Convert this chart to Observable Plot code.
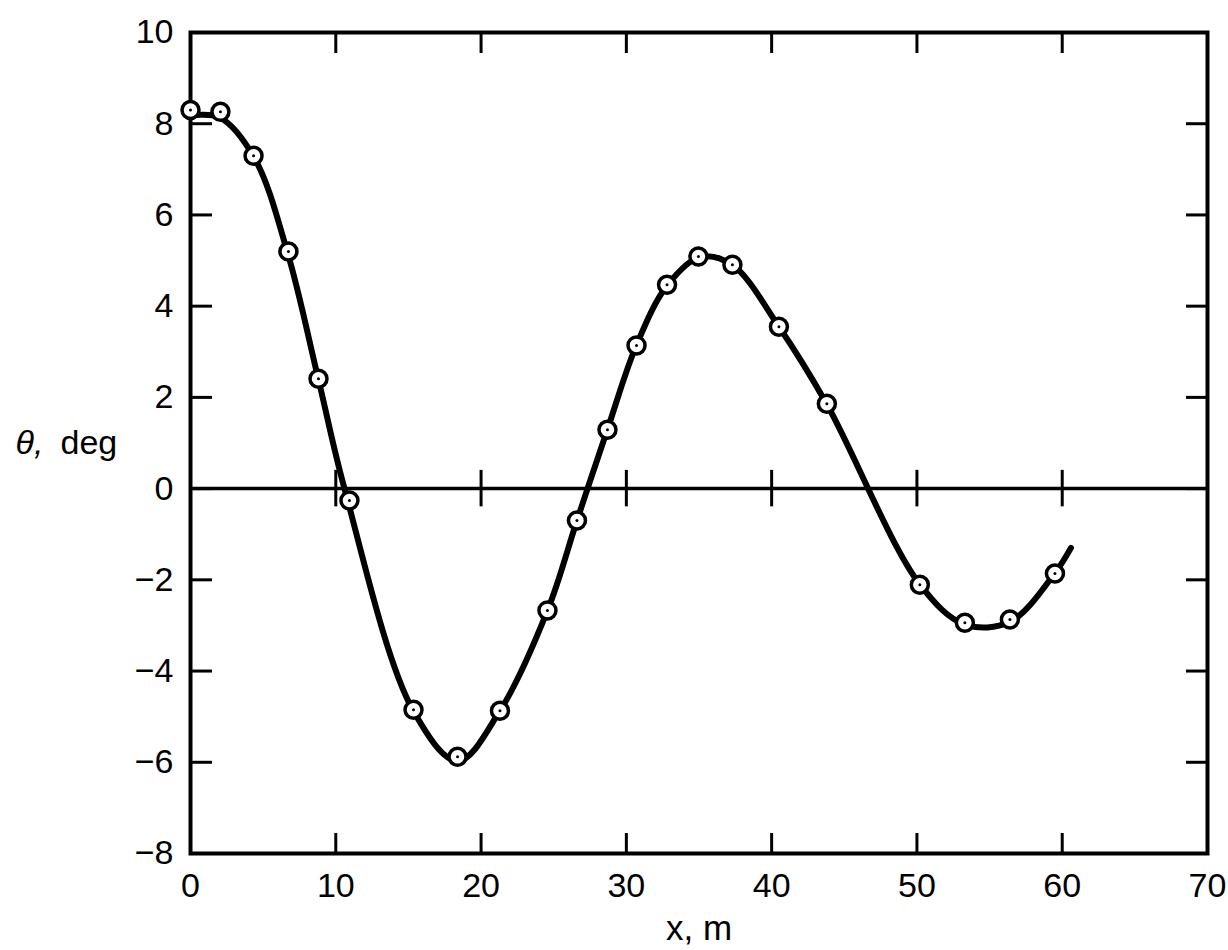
<!DOCTYPE html>
<html>
<head>
<meta charset="utf-8">
<script src="https://cdn.jsdelivr.net/npm/d3@7"></script>
<script src="https://cdn.jsdelivr.net/npm/@observablehq/plot@0.6"></script>
<style>
  html, body { margin: 0; padding: 0; background: #fff; }
  #chart { width: 1228px; height: 950px; }
</style>
</head>
<body>
<div id="chart"></div>
<script>
// Measured points (circles)
const pointX = [0, 2.06, 4.34, 6.74, 8.81, 10.94, 15.35, 18.38, 21.3, 24.57, 26.6, 28.7, 30.7, 32.8, 34.96, 37.3, 40.5, 43.8, 50.2, 53.3, 56.4, 59.5];
const pointY = [8.30, 8.26, 7.30, 5.20, 2.41, -0.26, -4.85, -5.88, -4.87, -2.67, -0.70, 1.29, 3.14, 4.47, 5.09, 4.91, 3.55, 1.86, -2.11, -2.94, -2.87, -1.86];

// Faired curve drawn through the data
const curveX = [0, 2.0, 4.4, 6.7, 8.8, 10.6, 15.3, 18.4, 21.3, 24.6, 26.6, 28.7, 30.7, 32.8, 35.1, 37.3, 40.5, 43.8, 50.2, 53.3, 56.4, 59.5, 60.6];
const curveY = [8.18, 8.14, 7.25, 5.15, 2.40, 0.0, -4.85, -5.97, -4.87, -2.65, -0.70, 1.30, 3.15, 4.45, 5.08, 4.90, 3.55, 1.85, -2.10, -2.98, -2.92, -1.85, -1.30];

const xTicks = [0, 10, 20, 30, 40, 50, 60, 70];
const yTicks = [-8, -6, -4, -2, 0, 2, 4, 6, 8, 10];
const xLabel = "x, m";
const yLabelSymbol = "θ,";
const yLabelUnit = "deg";

const points = pointX.map((x, i) => ({x, y: pointY[i]}));
const curve = curveX.map((x, i) => ({x, y: curveY[i]}));
const fmt = d => d < 0 ? "\u2212" + Math.abs(d) : String(d);
const innerX = xTicks.slice(1, -1);

const chart = Plot.plot({
  width: 1228,
  height: 950,
  marginLeft: 190,
  marginRight: 21,
  marginTop: 32,
  marginBottom: 97,
  style: {fontFamily: "'Liberation Sans', Arial, sans-serif", fontSize: "34px", background: "#fff", color: "#000"},
  x: {domain: [0, 70]},
  y: {domain: [-8, 10]},
  marks: [
    // inward ticks
    Plot.axisX(xTicks, {anchor: "bottom", tickSize: -20, tickFormat: () => "", label: null, strokeWidth: 3}),
    Plot.axisX(xTicks, {anchor: "top", tickSize: -20, tickFormat: () => "", label: null, strokeWidth: 3}),
    Plot.axisY(yTicks, {anchor: "left", tickSize: -22, tickFormat: () => "", label: null, strokeWidth: 3}),
    Plot.axisY(yTicks, {anchor: "right", tickSize: -22, tickFormat: () => "", label: null, strokeWidth: 3}),
    // tick labels
    Plot.axisX(xTicks, {anchor: "bottom", tickSize: 0, tickPadding: 19, tickFormat: fmt, label: null, fontSize: 34}),
    Plot.axisY(yTicks, {anchor: "left", tickSize: 0, tickPadding: 17, tickFormat: fmt, label: null, fontSize: 34}),
    Plot.frame({stroke: "#000", strokeWidth: 4}),
    Plot.ruleY([0], {stroke: "#000", strokeWidth: 3.5}),
    Plot.ruleX(innerX, {y1: -0.4, y2: 0.4, stroke: "#000", strokeWidth: 3}),
    Plot.line(curve, {x: "x", y: "y", curve: "catmull-rom", stroke: "#000", strokeWidth: 6}),
    Plot.dot(points, {x: "x", y: "y", r: 8.5, fill: "#fff", stroke: "#000", strokeWidth: 3.5}),
    Plot.dot(points, {x: "x", y: "y", r: 1.5, fill: "#000", stroke: null}),
    // axis titles
    Plot.text([xLabel], {text: d => d, frameAnchor: "bottom", dy: 75, fontSize: 35, lineAnchor: "middle"}),
    Plot.text([yLabelSymbol], {text: d => d, frameAnchor: "left", dx: -175, textAnchor: "start", fontSize: 34, fontStyle: "italic", lineAnchor: "middle"}),
    Plot.text([yLabelUnit], {text: d => d, frameAnchor: "left", dx: -130, textAnchor: "start", fontSize: 34, lineAnchor: "middle"})
  ]
});
document.getElementById("chart").appendChild(chart);
</script>
</body>
</html>
